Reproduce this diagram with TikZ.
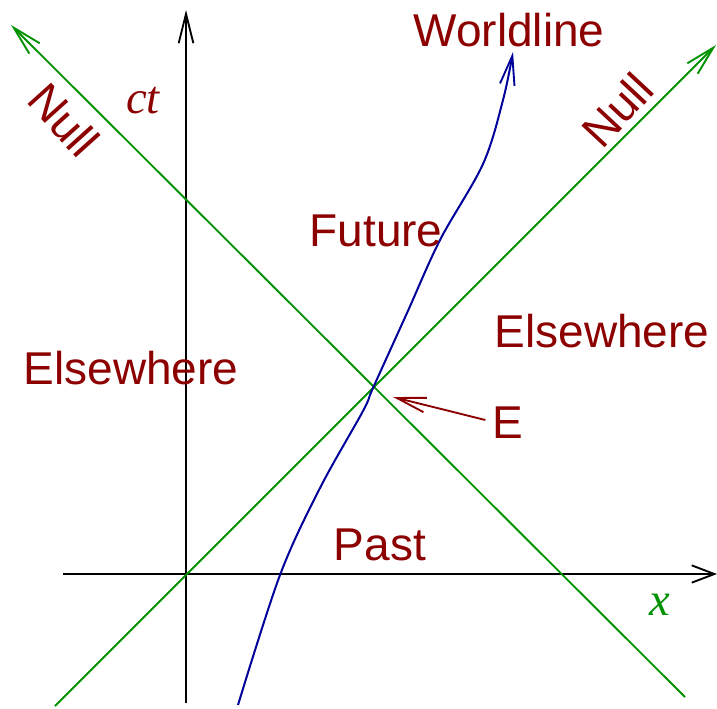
\documentclass[tikz,border=0pt]{standalone}
\usepackage{fontspec}
\setmainfont{Liberation Sans}
\newfontfamily\timesfont{Liberation Serif}
\usetikzlibrary{arrows.meta}
\definecolor{lblred}{RGB}{140,0,0}
\definecolor{nullgreen}{RGB}{0,145,0}
\definecolor{wlblue}{RGB}{0,0,155}
\begin{document}
\begin{tikzpicture}[x={(0.75pt,0)},y={(0,-0.75pt)},
  barb/.style={-{Straight Barb[length=22pt,width=11pt,line width=1.4pt]}},
  axisline/.style={black,line width=1.5pt},
  nullline/.style={nullgreen,line width=1.4pt},
  worldline/.style={wlblue,line width=1.5pt},
  lbl/.style={text=lblred,font=\fontsize{34.5}{38}\selectfont,inner sep=0pt},
  axlbl/.style={font=\fontsize{35}{38}\selectfont\timesfont\itshape,inner sep=0pt}]
\useasboundingbox (0,0) rectangle (717,708);
% axes
\coordinate (ctbot) at (186,703);
\coordinate (cttop) at (186,10);
\coordinate (xleft) at (63,574);
\coordinate (xright) at (717,574);
\draw[axisline,barb] (ctbot) -- (cttop);
\draw[axisline,-{Straight Barb[length=17pt,width=13pt,line width=1.4pt]}] (xleft) -- (xright);
% null lines
\coordinate (nAbot) at (55,706);
\coordinate (nAtop) at (716,45);
\coordinate (nBbot) at (685,697);
\coordinate (nBtop) at (11,25);
\draw[nullline,barb] (nAbot) -- (nAtop);
\draw[nullline,barb] (nBbot) -- (nBtop);
% worldline
\coordinate (E) at (373,388);
\draw[worldline,barb] plot[smooth,tension=0.55] coordinates
  {(238,705) (280,575) (320,488) (363,411) (373,388) (407,313) (440,240) (483,164) (503,100) (513,52)};
% labels
\node[lbl] (wl) at (509,30) {Worldline};
\node[lbl,rotate=-48] (nullL) at (64,120) {Null};
\node[lbl,rotate=47] (nullR) at (617,110) {Null};
\node[axlbl,text=lblred] (ct) at (143,101) {ct};
\node[axlbl,text=nullgreen] (xl) at (660,605) {x};
\node[lbl] (fut) at (376,231) {Future};
\node[lbl] (elsR) at (602,331) {Elsewhere};
\node[lbl] (elsL) at (131,368) {Elsewhere};
\node[lbl] (past) at (380,545) {Past};
\node[lbl] (Elbl) at (508,423) {E};
\coordinate (Etip) at (393,397);
\draw[lblred,line width=1.4pt,barb] (Elbl.west) ++(-7,-3) coordinate (Etail) (Etail) -- (Etip);
\end{tikzpicture}
\end{document}
